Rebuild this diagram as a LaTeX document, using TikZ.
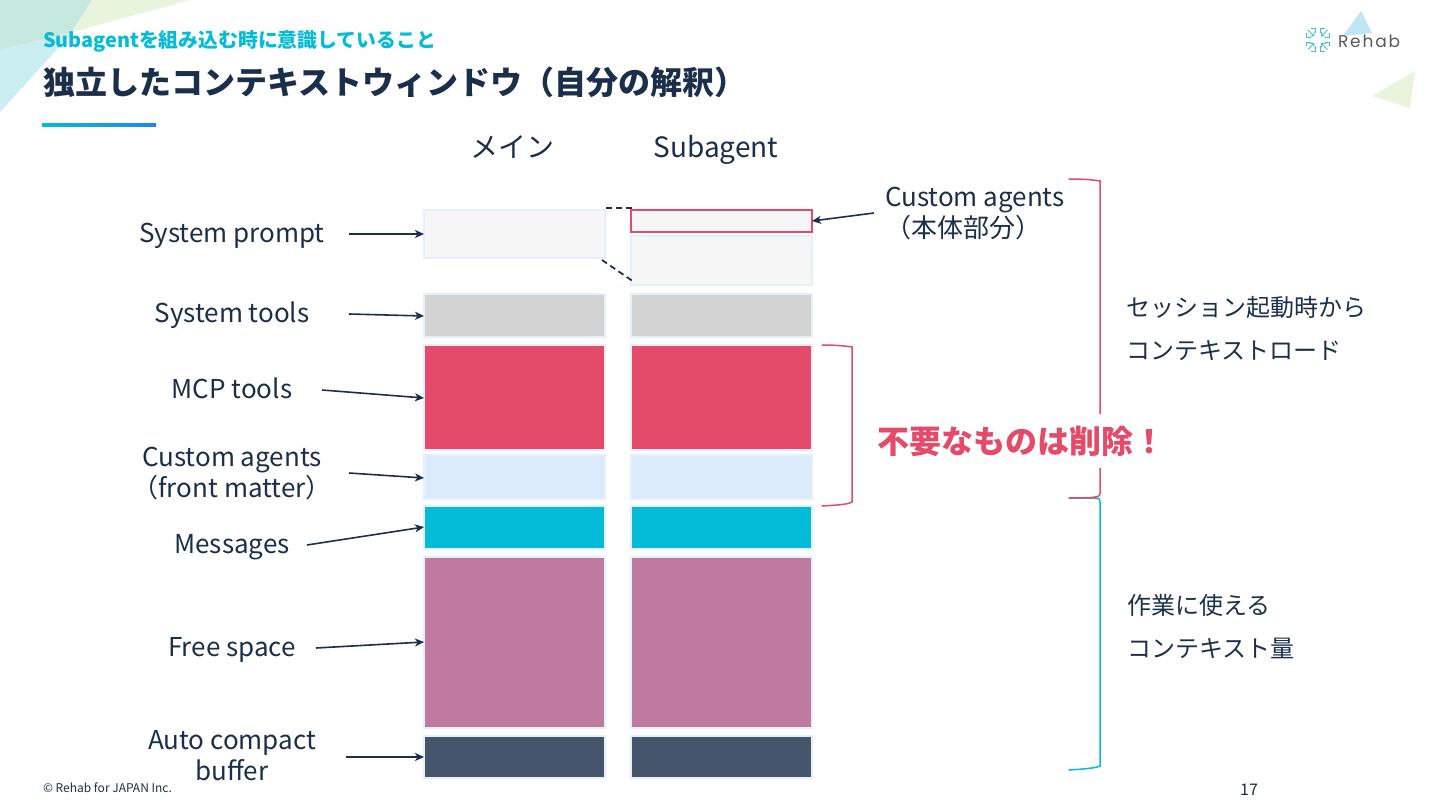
\documentclass[tikz,border=0pt]{standalone}
\usepackage{fontspec}
\setmainfont{Noto Sans CJK JP}
\newfontfamily\logofont[LetterSpace=11]{Poppins}
\usetikzlibrary{arrows.meta}
\definecolor{ink}{HTML}{1B2F4B}
\definecolor{teal}{HTML}{04BCD7}
\definecolor{rose}{HTML}{E44A69}
\definecolor{edgeblue}{HTML}{E6F0FB}
\definecolor{cpale}{HTML}{F6F6F6}
\definecolor{cgray}{HTML}{D3D3D3}
\definecolor{csky}{HTML}{DCEBFB}
\definecolor{cplum}{HTML}{BF7AA0}
\definecolor{cslate}{HTML}{45556C}
\definecolor{mint}{HTML}{C5E8DF}
\definecolor{iceblue}{HTML}{CBEEF3}
\definecolor{palegreen}{HTML}{E9F4DC}
\definecolor{logoblue}{HTML}{BEE6F3}
\definecolor{logoteal}{HTML}{45BFD2}
\definecolor{ruleblue}{HTML}{1E88E5}
\tikzset{
  x=1pt,y=-1pt,
  every node/.style={inner sep=0pt,outer sep=0pt,text=ink},
  bar/.style={draw=edgeblue,line width=1.5pt,minimum width=181pt,anchor=north west},
  lbl/.style={font=\fontsize{26}{31}\selectfont,align=center},
  rlbl/.style={font=\fontsize{24}{28}\selectfont,anchor=west},
  arrowline/.style={draw=ink,line width=1.6pt,-{Stealth[length=9pt,width=8pt,inset=2.5pt]}},
  dashline/.style={draw=ink,line width=1.8pt,dash pattern=on 6pt off 4pt},
  brace/.style={line width=1.5pt,line cap=round},
  logomark/.style={draw=logoteal,line width=.8pt}
}
\newcommand{\logocell}[4]{%
  \begin{scope}[shift={(#1,#2)},xscale=#3,yscale=#4]
    \draw[logomark] (-3,-3) -- (3,3) (3,-1) -- (3,3) -- (-1,3);
    \draw[logomark] (0,-4.5) -- (4.5,-4.5) -- (4.5,0) (-4.5,0) -- (-4.5,4.5) -- (0,4.5);
  \end{scope}
}
\begin{document}
\begin{tikzpicture}
\useasboundingbox (0,0) rectangle (1440,810);
% corner decorations
\fill[iceblue] (0,50) -- (72,33) -- (0,112) -- cycle;
\fill[palegreen] (92,0) -- (190,0) -- (72,32) -- cycle;
\fill[mint] (0,0) -- (92,0) -- (71,33) -- (0,50) -- cycle;
\fill[logoblue] (1361,11) -- (1372,33) -- (1343,36) -- cycle;
\fill[palegreen] (1415,71) -- (1372,96) -- (1410,108) -- cycle;
% header
\node[anchor=west,font=\fontsize{19.85}{24}\bfseries\selectfont,text=teal] (subtitle) at (43,41) {Subagentを組み込む時に意識していること};
\node[anchor=west,font=\fontsize{32}{36}\bfseries\selectfont] (title) at (43,82) {独立したコンテキストウィンドウ（自分の解釈）};
\fill[left color=teal,right color=ruleblue] (42,124) rectangle (156,127);
% logo
\logocell{1311}{33}{1}{1}\logocell{1324.5}{33}{-1}{1}\logocell{1311}{46.5}{1}{-1}\logocell{1324.5}{46.5}{-1}{-1}
\node[anchor=west,font=\fontsize{17}{20}\selectfont\logofont,text=black!65] (logo) at (1338,41) {Rehab};
% column heads
\node[font=\fontsize{28}{31}\selectfont] (hmain) at (512,147) {メイン};
\node[font=\fontsize{28}{31}\selectfont] (hsub) at (716,150) {Subagent};
% main column
\node[bar,fill=cpale,minimum height=48pt] (mSP) at (424,210) {};
\node[bar,fill=cgray,minimum height=43pt] (mST) at (424,294) {};
\node[bar,fill=rose,minimum height=105pt] (mMCP) at (424,345) {};
\node[bar,fill=csky,minimum height=44pt] (mCA) at (424,455) {};
\node[bar,fill=teal,minimum height=43pt] (mMS) at (424,506) {};
\node[bar,fill=cplum,minimum height=171pt] (mFS) at (424,557) {};
\node[bar,fill=cslate,minimum height=42pt] (mAC) at (424,736) {};
% subagent column
\node[bar,fill=cpale,minimum height=49pt] (sSP) at (631,236) {};
\node[bar,draw=rose,fill=cpale,minimum height=22pt] (sCB) at (631,210) {};
\node[bar,fill=cgray,minimum height=43pt] (sST) at (631,294) {};
\node[bar,fill=rose,minimum height=105pt] (sMCP) at (631,345) {};
\node[bar,fill=csky,minimum height=44pt] (sCA) at (631,455) {};
\node[bar,fill=teal,minimum height=43pt] (sMS) at (631,506) {};
\node[bar,fill=cplum,minimum height=171pt] (sFS) at (631,557) {};
\node[bar,fill=cslate,minimum height=42pt] (sAC) at (631,736) {};
% labels
\node[lbl] (lSP) at (232,236) {System prompt};
\node[lbl] (lST) at (232,315) {System tools};
\node[lbl] (lMCP) at (232,388) {MCP tools};
\node[lbl] (lCA) at (232,474) {Custom agents\\（front matter）};
\node[lbl] (lMS) at (232,547) {Messages};
\node[lbl] (lFS) at (232,650) {Free space};
\node[lbl] (lAC) at (232,755.5) {Auto compact\\buffer};
% arrows
\coordinate (aSP) at (349,234);
\coordinate (aST) at (349,314);
\coordinate (aMCP) at (322,390);
\coordinate (aCA) at (349,473);
\coordinate (aMS) at (307,545);
\coordinate (aFS) at (316,648);
\coordinate (aAC) at (346,757);
\coordinate (eST) at (424,316);
\coordinate (eMCP) at (424,398);
\coordinate (eCA) at (424,478);
\coordinate (eMS) at (424,527);
\coordinate (eFS) at (424,642);
\coordinate (eAC) at (424,757);
\draw[arrowline] (aSP) -- (mSP.west);
\draw[arrowline] (aST) -- (eST);
\draw[arrowline] (aMCP) -- (eMCP);
\draw[arrowline] (aCA) -- (eCA);
\draw[arrowline] (aMS) -- (eMS);
\draw[arrowline] (aFS) -- (eFS);
\draw[arrowline] (aAC) -- (eAC);
% dashed links
\coordinate (d1a) at (606,208);
\coordinate (d1b) at (633,208);
\coordinate (d2a) at (602,260);
\coordinate (d2b) at (634,282);
\draw[dashline] (d1a) -- (d1b);
\draw[dashline] (d2a) -- (d2b);
% custom agents callout
\node[anchor=west,font=\fontsize{26}{31}\selectfont] (lCB) at (885,200) {Custom agents};
\node[anchor=west,font=\fontsize{26}{31}\selectfont] (lCB2) at (885,228) {（本体部分）};
\coordinate (aCB) at (874,213);
\draw[arrowline] (aCB) -- (sCB.east);
% brackets
\draw[brace,draw=teal] (1069,498) -- (1096,498) .. controls (1099,498) and (1100,499) .. (1100,502) -- (1100,766) .. controls (1096,768) and (1085,769) .. (1069,770);
\draw[brace,draw=rose] (1069,179) .. controls (1085,179) and (1094,180) .. (1100,181) -- (1100,494) .. controls (1100,497) and (1096,498) .. (1069,498);
\draw[brace,draw=rose] (822,345) .. controls (836,345) and (846,346) .. (852,347) -- (852,502) .. controls (846,505) and (836,505) .. (822,506);
\node[anchor=west,fill=white,inner ysep=12pt,inner xsep=0pt,font=\fontsize{32}{36}\bfseries\selectfont,text=rose] (lDel) at (877,441) {不要なものは削除！};
% right notes
\node[rlbl] (n1) at (1126.5,307) {セッション起動時から};
\node[rlbl] (n2) at (1126.5,351) {コンテキストロード};
\node[rlbl] (n3) at (1127.5,605) {作業に使える};
\node[rlbl] (n4) at (1127.5,648) {コンテキスト量};
% footer
\node[anchor=west,font=\fontsize{12}{14}\selectfont] (foot) at (43,788) {© Rehab for JAPAN Inc.};
\node[font=\fontsize{16}{18}\selectfont] (page) at (1249,790) {17};
\end{tikzpicture}
\end{document}
